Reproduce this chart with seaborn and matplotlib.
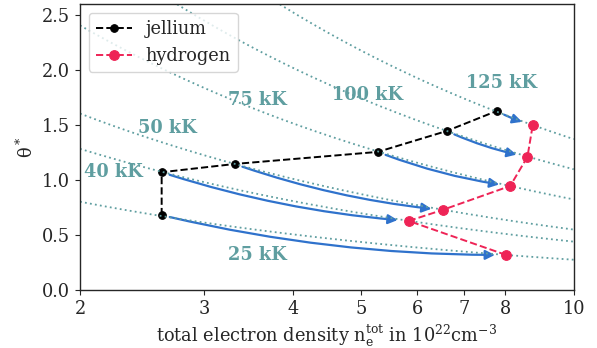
import numpy as np
import pandas as pd
import matplotlib
matplotlib.use("Agg")
import matplotlib.pyplot as plt
import seaborn as sns
from matplotlib.ticker import FixedLocator, FixedFormatter, NullLocator

# ---- data ----
jellium_n = [2.61, 2.61, 3.31, 5.28, 6.61, 7.78]
jellium_theta = [0.68, 1.07, 1.145, 1.255, 1.445, 1.627]
hydrogen_n = [8.02, 5.84, 6.52, 8.13, 8.60, 8.75]
hydrogen_theta = [0.318, 0.627, 0.727, 0.945, 1.21, 1.50]
isotherm_T_kK = [25, 40, 50, 75, 100, 125]
label_text = ["25 kK", "40 kK", "50 kK", "75 kK", "100 kK", "125 kK"]
label_n = [3.56, 2.23, 2.66, 3.57, 5.11, 7.90]
label_theta = [0.32, 1.07, 1.47, 1.73, 1.77, 1.88]
xticks = [2, 3, 4, 5, 6, 7, 8, 10]
yticks = [0.0, 0.5, 1.0, 1.5, 2.0, 2.5]

# ---- styling ----
sns.set_style("ticks")
plt.rcParams["font.family"] = ["DejaVu Serif"]
plt.rcParams["mathtext.fontset"] = "dejavuserif"
plt.rcParams["axes.linewidth"] = 1.0

FS = 12.8
C_JEL = "black"
C_HYD = "#ee2456"
C_ISO = "#5f9ea0"
C_ARR = "#2f72cc"

fig = plt.figure(figsize=(5.97, 3.48), dpi=100)
ax = fig.add_axes([0.134, 0.167, 0.827, 0.8215])
ax.set_xscale("log")

# isotherms: theta = T / T_F(n), T_F from the free-electron Fermi energy
hbar, me, kB = 1.054571817e-34, 9.1093837015e-31, 1.380649e-23
n_grid = np.geomspace(2, 10, 300)
TF = hbar**2 / (2 * me * kB) * (3 * np.pi**2 * n_grid * 1e28) ** (2 / 3)
for T in isotherm_T_kK:
    df_iso = pd.DataFrame({"n": n_grid, "theta": T * 1e3 / TF})
    sns.lineplot(data=df_iso, x="n", y="theta", ax=ax, color=C_ISO,
                 linestyle=(0, (1, 1.8)), lw=1.3, sort=False, estimator=None,
                 zorder=2.5)

df_j = pd.DataFrame({"n": jellium_n, "theta": jellium_theta})
df_h = pd.DataFrame({"n": hydrogen_n, "theta": hydrogen_theta})
sns.lineplot(data=df_j, x="n", y="theta", ax=ax, color=C_JEL, linestyle="--",
             marker="o", markersize=5.5, mec=C_JEL, lw=1.4, sort=False,
             estimator=None, label="jellium", zorder=2)
sns.lineplot(data=df_h, x="n", y="theta", ax=ax, color=C_HYD, linestyle="--",
             marker="o", markersize=7, mec=C_HYD, lw=1.4, sort=False,
             estimator=None, label="hydrogen", zorder=3)

for xj, yj, xh, yh in zip(jellium_n, jellium_theta, hydrogen_n, hydrogen_theta):
    ax.annotate("", xy=(xh, yh), xytext=(xj, yj),
                arrowprops=dict(arrowstyle="-|>", color=C_ARR, lw=1.6,
                                mutation_scale=14, shrinkA=6, shrinkB=8,
                                connectionstyle="arc3,rad=0.06"),
                zorder=2)

for t, xl, yl in zip(label_text, label_n, label_theta):
    ax.text(xl, yl, t, color=C_ISO, fontsize=FS, fontweight="bold",
            ha="center", va="center")

ax.set_xlim(2, 10)
ax.set_ylim(0, 2.6)
ax.xaxis.set_major_locator(FixedLocator(xticks))
ax.xaxis.set_major_formatter(FixedFormatter([str(v) for v in xticks]))
ax.xaxis.set_minor_locator(NullLocator())
ax.set_yticks(yticks)
ax.set_yticklabels([f"{v:.1f}" for v in yticks])
ax.tick_params(labelsize=FS)
ax.set_xlabel(r"total electron density n$_\mathrm{e}^\mathrm{tot}$ in 10$^{22}$cm$^{-3}$", fontsize=FS)
ax.set_ylabel(r"$\mathrm{\theta}^*$", fontsize=FS)
for s in ax.spines.values():
    s.set_visible(True)
ax.legend(loc="upper left", fontsize=FS, handlelength=2.0, borderaxespad=0.5)

fig.savefig("out.png", dpi=100)
